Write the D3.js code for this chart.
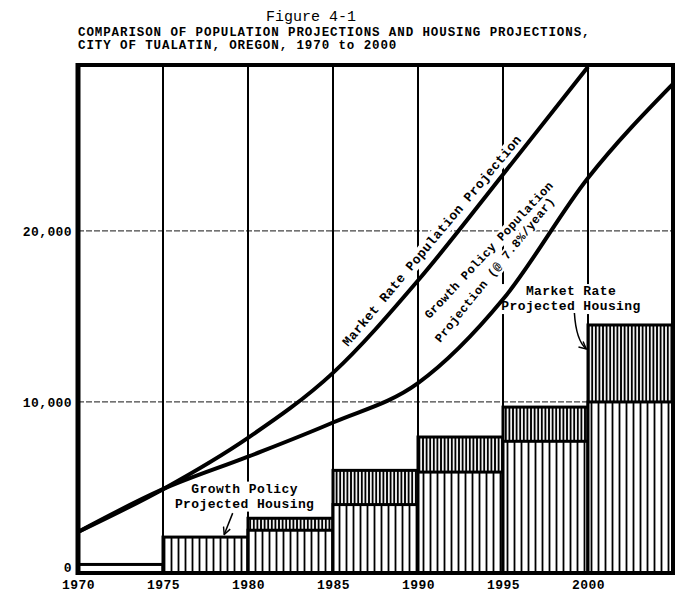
<!DOCTYPE html>
<html>
<head>
<meta charset="utf-8">
<script src="https://cdn.jsdelivr.net/npm/d3@7"></script>
<style>
  body { margin: 0; background: #fff; }
  text { font-family: "Liberation Mono", "DejaVu Sans Mono", monospace; fill: #000; }
</style>
</head>
<body>
<div id="chart"></div>
<script>
/* population vs housing projections, Tualatin 1970-2000 */

// housing bars, one per 5-year period
const periods = [1970, 1975, 1980, 1985, 1990, 1995, 2000];
const growthHousing = [500, 2100, 2500, 4000, 5900, 7700, 10000];
const marketHousing = [500, 2100, 3200, 6000, 7950, 9700, 14500];

// population curves
const marketYears = [1970, 1975, 1980, 1985, 1990, 1995, 2000];
const marketPop = [2400, 4900, 7900, 11700, 17100, 23300, 29600];
const growthYears = [1970, 1975, 1980, 1985, 1990, 1995, 2000, 2005];
const growthPop = [2400, 4900, 6800, 8800, 11100, 16000, 23100, 28600];

const yTicks = [0, 10000, 20000];
const xTicks = [1970, 1975, 1980, 1985, 1990, 1995, 2000];

const width = 675,
      height = 593,
      margin = ({top: 65, right: 2, bottom: 20, left: 78});

let svg = d3.select("#chart")
    .append("svg")
    .attr("width", width)
    .attr("height", height)
    .attr("viewBox", [0, 0, width, height]);

let x = d3.scaleLinear()
    .domain([1970, 2005])
    .range([margin.left, width - margin.right]);

let y = d3.scaleLinear()
    .domain([0, 29700])
    .range([height - margin.bottom, margin.top]);

// hatch patterns
let defs = svg.append("defs");
function hatch(id, step, w) {
    let p = defs.append("pattern")
        .attr("id", id)
        .attr("patternUnits", "userSpaceOnUse")
        .attr("width", step)
        .attr("height", 10);
    p.append("rect").attr("width", step).attr("height", 10).attr("fill", "#fff");
    p.append("line")
        .attr("x1", step / 2).attr("x2", step / 2)
        .attr("y1", 0).attr("y2", 10)
        .attr("stroke", "#000")
        .attr("stroke-width", w);
}
hatch("light", 7, 1.8);
hatch("dark", 3.6, 1.9);

defs.append("clipPath").attr("id", "plot")
    .append("rect")
    .attr("x", x(1970)).attr("y", y(29700))
    .attr("width", x(2005) - x(1970))
    .attr("height", y(0) - y(29700));

defs.append("marker")
    .attr("id", "arrow")
    .attr("viewBox", "0 0 10 10")
    .attr("refX", 9).attr("refY", 5)
    .attr("markerWidth", 6).attr("markerHeight", 6)
    .attr("orient", "auto")
    .append("path")
    .attr("d", "M1,1 L9,5 L1,9")
    .attr("fill", "none")
    .attr("stroke", "#000")
    .attr("stroke-width", 1.6);

// horizontal grid
svg.append("g")
    .selectAll("line")
    .data(yTicks.slice(1))
    .join("line")
    .attr("x1", x(1970)).attr("x2", x(2005))
    .attr("y1", d => y(d)).attr("y2", d => y(d))
    .attr("stroke", "#444")
    .attr("stroke-width", 1.2)
    .attr("stroke-dasharray", "6,2");

// vertical grid
svg.append("g")
    .selectAll("line")
    .data(xTicks.slice(1))
    .join("line")
    .attr("x1", d => x(d)).attr("x2", d => x(d))
    .attr("y1", y(29700)).attr("y2", y(0))
    .attr("stroke", "#000")
    .attr("stroke-width", 2);

// housing bars
let bars = periods.map((p, i) => ({year: p, growth: growthHousing[i], market: marketHousing[i]}));

let bar = svg.selectAll(".bar")
    .data(bars)
    .join("g")
    .attr("class", "bar");

bar.append("rect")
    .attr("x", d => x(d.year))
    .attr("width", d => x(d.year + 5) - x(d.year))
    .attr("y", d => y(d.market))
    .attr("height", d => y(0) - y(d.market))
    .attr("fill", d => d.year === 1970 ? "#fff" : (d.market > d.growth ? "url(#dark)" : "url(#light)"))
    .attr("stroke", "#000")
    .attr("stroke-width", 3);

bar.filter(d => d.market > d.growth)
    .append("rect")
    .attr("x", d => x(d.year))
    .attr("width", d => x(d.year + 5) - x(d.year))
    .attr("y", d => y(d.growth))
    .attr("height", d => y(0) - y(d.growth))
    .attr("fill", "url(#light)")
    .attr("stroke", "#000")
    .attr("stroke-width", 3);

// annotations, pasted on white so the grid is hidden behind them
function note(cx, cy, angle, rows, size, gap, dy) {
    let g = svg.append("g")
        .attr("transform", `translate(${cx},${cy}) rotate(${angle})`);
    let t = g.append("text")
        .attr("text-anchor", "middle")
        .style("font-size", size + "px")
        .style("font-weight", "bold")
        .style("letter-spacing", "0.4px");
    rows.forEach((r, i) => t.append("tspan").attr("x", 0).attr("y", i * gap).attr("dy", dy).text(r));
    let b = t.node().getBBox();
    g.insert("rect", "text")
        .attr("x", b.x - 2).attr("y", b.y)
        .attr("width", b.width + 4).attr("height", b.height)
        .attr("fill", "#fff");
}

note(x(1990.8), y(19450), -50, ["Market Rate Population Projection"], 13, 15, "0.35em");
note(x(1994.15), y(18900), -47, ["Growth Policy Population"], 12, 14, "0.35em");
note(x(1994.5), y(17750), -51, ["Projection (@ 7.8%/year)"], 12, 14, "0.35em");
note(x(1979.8), y(4700), 0, ["Growth Policy", "Projected Housing"], 13, 15, 0);
note(x(1999.0), y(16250), 0, ["Market Rate", "Projected Housing"], 13, 15, 0);

// population lines
let line = d3.line()
    .x(d => x(d[0]))
    .y(d => y(d[1]))
    .curve(d3.curveMonotoneX);

let lines = svg.append("g").attr("clip-path", "url(#plot)");
lines.append("path")
    .attr("d", line(marketYears.map((t, i) => [t, marketPop[i]])))
    .attr("fill", "none").attr("stroke", "#000").attr("stroke-width", 4);
lines.append("path")
    .attr("d", line(growthYears.map((t, i) => [t, growthPop[i]])))
    .attr("fill", "none").attr("stroke", "#000").attr("stroke-width", 4);

// frame
svg.append("rect")
    .attr("x", x(1970)).attr("y", y(29700))
    .attr("width", x(2005) - x(1970))
    .attr("height", y(0) - y(29700))
    .attr("fill", "none")
    .attr("stroke", "#000")
    .attr("stroke-width", 4);
svg.append("line")
    .attr("x1", x(1970)).attr("x2", x(1970))
    .attr("y1", y(29700) - 2).attr("y2", y(0) + 2)
    .attr("stroke", "#000").attr("stroke-width", 5);

// axes
svg.append("g")
    .attr("transform", `translate(0, ${y(0)})`)
    .call(d3.axisBottom(x).tickValues(xTicks).tickFormat(d3.format("d")).tickSize(0).tickPadding(7))
    .call(g => g.select(".domain").remove())
    .selectAll("text")
    .style("font-family", "Liberation Mono")
    .style("font-size", "13px")
    .style("font-weight", "bold")
    .style("letter-spacing", "0.4px");

svg.append("g")
    .attr("transform", `translate(${x(1970) - 4}, 0)`)
    .call(d3.axisLeft(y).tickValues(yTicks).tickFormat(d3.format(",")).tickSize(0).tickPadding(2))
    .call(g => g.select(".domain").remove())
    .selectAll("text")
    .attr("dy", d => d === 0 ? "-0.1em" : "0.32em")
    .style("font-family", "Liberation Mono")
    .style("font-size", "13px")
    .style("font-weight", "bold")
    .style("letter-spacing", "0.4px");

// titles
svg.append("text")
    .attr("x", 311).attr("y", 21)
    .attr("text-anchor", "middle")
    .style("font-size", "15px")
    .text("Figure 4-1");

let sub = svg.append("text")
    .attr("x", x(1970))
    .style("font-size", "12.5px")
    .style("font-weight", "bold")
    .style("letter-spacing", "0.9px");
sub.append("tspan").attr("x", x(1970)).attr("y", 36)
    .text("COMPARISON OF POPULATION PROJECTIONS AND HOUSING PROJECTIONS,");
sub.append("tspan").attr("x", x(1970)).attr("y", 49)
    .text("CITY OF TUALATIN, OREGON, 1970 to 2000");

// arrows
svg.append("path")
    .attr("d", `M${x(1979.1)},${y(3500)} L${x(1978.6)},${y(2250)}`)
    .attr("fill", "none").attr("stroke", "#000").attr("stroke-width", 1.5)
    .attr("marker-end", "url(#arrow)");
svg.append("path")
    .attr("d", `M${x(1999.2)},${y(15200)} Q${x(1999.3)},${y(13600)} ${x(1999.9)},${y(13100)}`)
    .attr("fill", "none").attr("stroke", "#000").attr("stroke-width", 1.5)
    .attr("marker-end", "url(#arrow)");
</script>
</body>
</html>
